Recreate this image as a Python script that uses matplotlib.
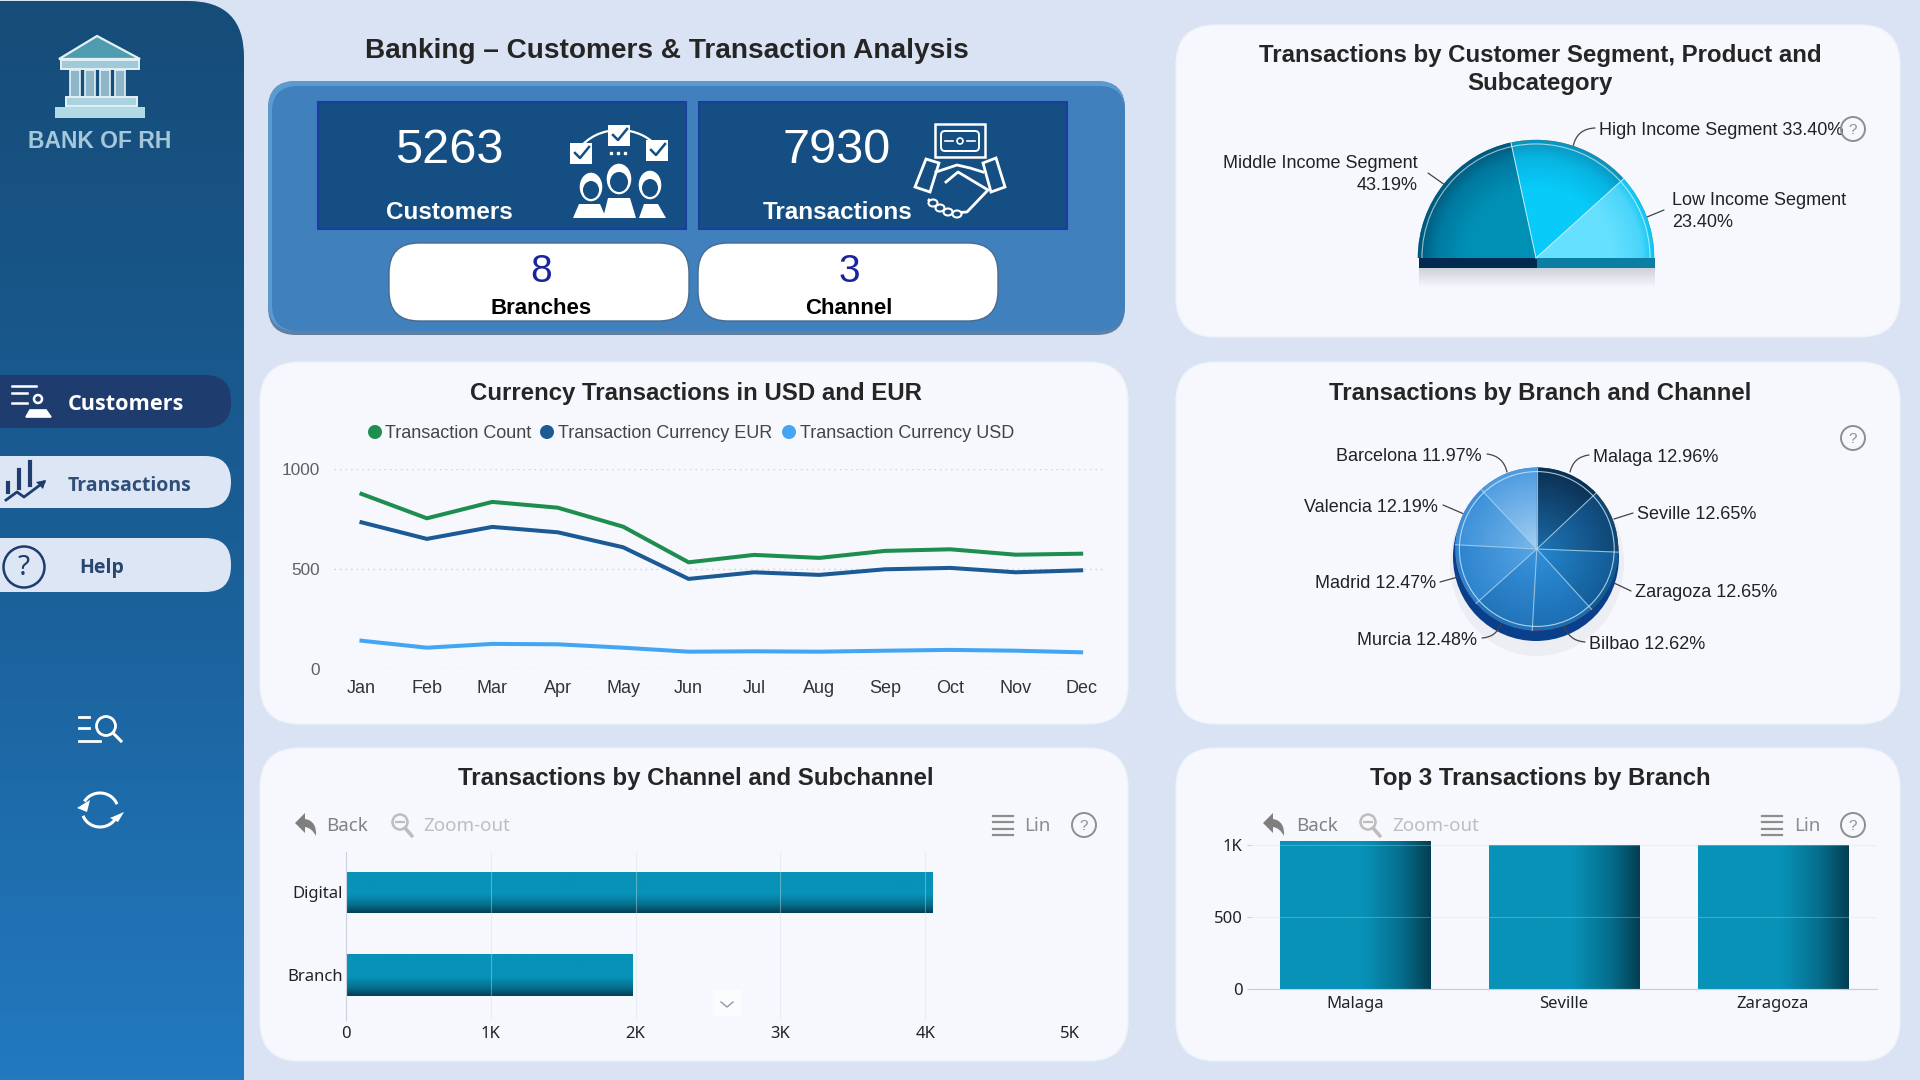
import numpy as np
import matplotlib
matplotlib.use("Agg")
import matplotlib.pyplot as plt
from matplotlib.colors import LinearSegmentedColormap
from matplotlib.patches import Arc, Circle, Ellipse, FancyBboxPatch, PathPatch, Polygon, Rectangle
from matplotlib.path import Path

plt.rcParams["font.family"] = ["Liberation Sans", "DejaVu Sans"]

# === data ===
KPI_CUSTOMERS = 5263
KPI_TRANSACTIONS = 7930
KPI_BRANCHES = 8
KPI_CHANNELS = 3

months = ["Jan", "Feb", "Mar", "Apr", "May", "Jun", "Jul", "Aug", "Sep", "Oct", "Nov", "Dec"]
transaction_count = [877, 755, 837, 808, 713, 535, 572, 557, 592, 600, 573, 578]
currency_eur = [735, 652, 712, 685, 610, 452, 485, 472, 500, 507, 485, 495]
currency_usd = [143, 108, 127, 125, 108, 88, 90, 88, 93, 97, 93, 85]
line_names = ["Transaction Count", "Transaction Currency EUR", "Transaction Currency USD"]
line_yticks = [0, 500, 1000]

segment_names = ["Middle Income Segment", "High Income Segment", "Low Income Segment"]
segment_pct = [43.19, 33.40, 23.40]

branch_names = ["Malaga", "Seville", "Zaragoza", "Bilbao", "Murcia", "Madrid", "Valencia", "Barcelona"]
branch_pct = [12.96, 12.65, 12.65, 12.62, 12.48, 12.47, 12.19, 11.97]

channel_names = ["Branch", "Digital"]
channel_values = [1980, 4050]
channel_ticks = [0, 1000, 2000, 3000, 4000, 5000]
channel_tick_labels = ["0", "1K", "2K", "3K", "4K", "5K"]

top_branches = ["Malaga", "Seville", "Zaragoza"]
top_values = [1028, 1003, 1003]
top_ticks = [0, 500, 1000]
top_tick_labels = ["0", "500", "1K"]

# === colours ===
PAGE = "#D9E3F3"
CARD = "#F6F8FD"
TITLE = "#252525"
GREEN = "#1E8E50"
NAVY = "#1B5A94"
SKY = "#45A5F5"
KPI_BOX = "#154E82"
NAV_DARK = "#1F3C6E"
NAV_LIGHT = "#DCE6F5"
TICK_FONT = ["Noto Sans", "DejaVu Sans"]

W, H = 1920, 1080
fig = plt.figure(figsize=(W / 100, H / 100), dpi=100, facecolor=PAGE)

# page axes in pixels, y going down, everything that is not a chart sits here
bg = fig.add_axes([0, 0, 1, 1], zorder=0)
bg.set_xlim(0, W)
bg.set_ylim(H, 0)
bg.axis("off")


def px_axes(x0, y0, x1, y1, zorder=2):
    ax = fig.add_axes([x0 / W, 1 - y1 / H, (x1 - x0) / W, (y1 - y0) / H], zorder=zorder)
    ax.patch.set_alpha(0)
    return ax


def round_box(x0, y0, x1, y1, radius, color, edge="none", lw=0, zorder=1, ax=bg):
    patch = FancyBboxPatch((x0, y0), x1 - x0, y1 - y0, boxstyle=f"round,pad=0,rounding_size={radius}",
                           facecolor=color, edgecolor=edge, linewidth=lw, zorder=zorder)
    ax.add_patch(patch)
    return patch


def gradient_fill(ax, extent, stops, vertical=True, clip=None, zorder=2):
    """linear gradient, stops run top to bottom (or left to right)"""
    cmap = LinearSegmentedColormap.from_list("g", stops)
    ramp = np.linspace(0, 1, 256)
    grad = ramp[:, None] if vertical else ramp[None, :]
    xlim, ylim = ax.get_xlim(), ax.get_ylim()
    im = ax.imshow(grad, extent=extent, cmap=cmap, aspect="auto", origin="upper", zorder=zorder, vmin=0, vmax=1)
    if clip is not None:
        im.set_clip_path(clip)
    ax.set_xlim(xlim)
    ax.set_ylim(ylim)
    return im


def radial_fill(ax, wedge, stops, zorder=2):
    """radial shading of one pie wedge, stops run centre to rim"""
    cmap = LinearSegmentedColormap.from_list("r", stops)
    xx, yy = np.meshgrid(np.linspace(-1.1, 1.1, 400), np.linspace(-1.1, 1.1, 400))
    im = ax.imshow(np.hypot(xx, yy), extent=[-1.1, 1.1, -1.1, 1.1], cmap=cmap, vmin=0, vmax=1,
                   origin="lower", zorder=zorder, aspect="equal", interpolation="bilinear")
    im.set_clip_path(wedge)


def leader(x0, y0, x1, y1, rad=0.0):
    bg.annotate("", xy=(x1, y1), xytext=(x0, y0), zorder=6,
                arrowprops=dict(arrowstyle="-", color="#444444", lw=0.9, shrinkA=0, shrinkB=0,
                                connectionstyle=f"arc3,rad={rad}"))


def question(x, y, r=12, color="#8E8E8E", lw=1.4, size=11):
    bg.add_patch(Circle((x, y), r, facecolor="none", edgecolor=color, lw=lw, zorder=6))
    bg.text(x, y + 1, "?", ha="center", va="center", fontsize=size, color=color, zorder=6)


def draw_back(x, y, color="#7F7F7F"):
    verts = [(x - 11, y - 2), (x - 1, y - 12), (x - 1, y - 6), (x + 11, y - 4), (x + 10, y + 11),
             (x + 6, y + 3), (x - 1, y + 2), (x - 1, y + 8), (x - 11, y - 2)]
    codes = [Path.MOVETO, Path.LINETO, Path.LINETO, Path.CURVE3, Path.CURVE3, Path.CURVE3, Path.CURVE3,
             Path.LINETO, Path.CLOSEPOLY]
    bg.add_patch(PathPatch(Path(verts, codes), facecolor=color, edgecolor="none", zorder=6))


def draw_zoom(x, y, color="#BDBDBD"):
    bg.add_patch(Circle((x - 2, y - 3), 7.5, facecolor="none", edgecolor=color, lw=1.8, zorder=6))
    bg.plot([x + 3, x + 10], [y + 3, y + 11], color=color, lw=2.6, zorder=6, solid_capstyle="round")
    bg.plot([x - 6, x + 2], [y - 3, y - 3], color=color, lw=1.6, zorder=6)


def draw_list(x, y, color="#8E8E8E"):
    for dy in (-9.5, -3, 3.5, 10):
        bg.plot([x - 10, x - 7.5], [y + dy, y + dy], color=color, lw=1.6, zorder=6)
        bg.plot([x - 5, x + 10], [y + dy, y + dy], color=color, lw=1.6, zorder=6)


def toolbar(arrow_x, back_x, zoom_x, zoomtxt_x, list_x, lin_x, help_x, y=825):
    draw_back(arrow_x, y)
    bg.text(back_x, y + 1, "Back", ha="left", va="center", fontsize=13.5, color="#808080", zorder=6, family=TICK_FONT)
    draw_zoom(zoom_x, y)
    bg.text(zoomtxt_x, y + 1, "Zoom-out", ha="left", va="center", fontsize=13.5, color="#BEBEBE", zorder=6, family=TICK_FONT)
    draw_list(list_x, y)
    bg.text(lin_x, y + 1, "Lin", ha="left", va="center", fontsize=13.5, color="#8C8C8C", zorder=6, family=TICK_FONT)
    question(help_x, y)


def arc_pts(cx, cy, rx, ry, a0, a1):
    t = np.radians(np.linspace(a0, a1, 40))
    return cx + rx * np.cos(t), cy - ry * np.sin(t)


# --- sidebar ---
side = round_box(-100, 1, 244, 1400, 56, "none")
gradient_fill(bg, [0, 244, 1080, 0], ["#164C78", "#1A5E96", "#2279BF"], clip=side)

# bank logo
bg.add_patch(Polygon([(97, 36), (140, 59), (59, 59)], facecolor="#4F9BB0", edgecolor="#E4F0F4", lw=1.6, zorder=3))
bg.add_patch(Rectangle((61, 60), 78, 9, facecolor="#9FCBD8", edgecolor="#E4F0F4", lw=1.4, zorder=3))
for cx in (75, 90, 105, 120):
    bg.add_patch(Rectangle((cx - 5, 70), 10, 27, facecolor="#8FB6C8", edgecolor="#E4F0F4", lw=1.2, zorder=3))
bg.add_patch(Rectangle((66, 97), 71, 9, facecolor="#A9D3DE", edgecolor="#E4F0F4", lw=1.4, zorder=3))
bg.add_patch(Rectangle((55, 107), 90, 11, facecolor="#B2DAE5", edgecolor="none", zorder=3))
bg.text(100, 142, "BANK OF RH", ha="center", va="center", fontsize=16.5, weight="bold", color="#A4C8DA", zorder=3)

# nav buttons
round_box(-60, 375, 231, 428, 26, NAV_DARK, zorder=3)
round_box(-60, 456, 231, 508, 26, NAV_LIGHT, zorder=3)
round_box(-60, 538, 231, 592, 26, NAV_LIGHT, zorder=3)
nav_font = ["Open Sans", "DejaVu Sans"]
bg.text(68, 405, "Customers", ha="left", va="center", fontsize=15.6, weight="bold", color="white", zorder=4, family=nav_font)
bg.text(68, 486, "Transactions", ha="left", va="center", fontsize=14, weight="bold", color="#2F4E78", zorder=4, family=nav_font)
bg.text(79, 568, "Help", ha="left", va="center", fontsize=14, weight="bold", color="#2A4570", zorder=4, family=nav_font)

# customers icon
for yy, x1 in ((386, 36), (393, 27), (403, 27)):
    bg.plot([12, x1], [yy, yy], color="white", lw=1.8, zorder=4)
bg.add_patch(Circle((38, 399), 4, facecolor="none", edgecolor="white", lw=1.8, zorder=4))
bg.add_patch(Polygon([(26, 417), (30, 410), (46, 410), (51, 417)], facecolor="white", edgecolor="white", lw=1.2, zorder=4))
# transactions icon
for xx, y0, y1 in ((8, 483, 492), (19, 470, 488), (30, 462, 485)):
    bg.plot([xx, xx], [y0, y1], color=NAV_DARK, lw=3, zorder=4)
bg.plot([6, 17, 24, 44], [500, 492, 497, 482], color=NAV_DARK, lw=2, zorder=4)
bg.add_patch(Polygon([(46, 480), (36, 482), (43, 489)], facecolor=NAV_DARK, zorder=4))
# help icon
bg.add_patch(Circle((24, 567), 20.5, facecolor="none", edgecolor=NAV_DARK, lw=1.8, zorder=4))
bg.text(24, 568, "?", ha="center", va="center", fontsize=20, color=NAV_DARK, zorder=4, family=TICK_FONT)
# search and refresh icons
for yy, x1 in ((717, 89), (728, 89), (741, 100)):
    bg.plot([79, x1], [yy, yy], color="white", lw=2, zorder=3)
bg.add_patch(Circle((106, 726), 9.5, facecolor="none", edgecolor="white", lw=2, zorder=3))
bg.plot([113, 121], [733, 741], color="white", lw=2.2, zorder=3)
for a0, a1 in ((25, 145), (205, 325)):
    ax_, ay_ = arc_pts(100, 810, 18, 17, a0, a1)
    bg.plot(ax_, ay_, color="white", lw=2.2, zorder=3)
bg.add_patch(Polygon([(110, 818), (124, 812), (118, 822)], facecolor="white", zorder=3))
bg.add_patch(Polygon([(77, 808), (90, 800), (87, 812)], facecolor="white", zorder=3))

# --- title and KPI block ---
bg.text(667, 50.5, "Banking – Customers & Transaction Analysis", ha="center", va="center",
        fontsize=20.2, weight="bold", color=TITLE, zorder=3)

round_box(268, 81, 1125, 335, 28, "#5F7FA3")
round_box(268, 81, 1125, 331, 28, "#5C9BD0", zorder=1)
round_box(272, 86, 1125, 331, 26, "#3F80BD", zorder=1)

bg.add_patch(Rectangle((318, 102), 368, 127, facecolor=KPI_BOX, edgecolor="#1A3D9E", lw=1.5, zorder=2))
bg.add_patch(Rectangle((699, 102), 368, 127, facecolor=KPI_BOX, edgecolor="#1A3D9E", lw=1.5, zorder=2))
round_box(389, 243, 689, 321, 30, "white", edge="#4A6A8E", lw=1, zorder=2)
round_box(698, 243, 998, 321, 30, "white", edge="#4A6A8E", lw=1, zorder=2)

bg.text(449, 150.5, str(KPI_CUSTOMERS), ha="center", va="center", fontsize=35, color="white", zorder=3)
bg.text(449, 212.5, "Customers", ha="center", va="center", fontsize=17.5, weight="bold", color="white", zorder=3)
bg.text(837, 150.5, str(KPI_TRANSACTIONS), ha="center", va="center", fontsize=35, color="white", zorder=3)
bg.text(838, 212.5, "Transactions", ha="center", va="center", fontsize=17.5, weight="bold", color="white", zorder=3)
bg.text(541, 271.5, str(KPI_BRANCHES), ha="center", va="center", fontsize=28, color="#1B249B", zorder=3)
bg.text(541, 308.5, "Branches", ha="center", va="center", fontsize=16, weight="bold", color="black", zorder=3)
bg.text(849, 271.5, str(KPI_CHANNELS), ha="center", va="center", fontsize=28, color="#1B249B", zorder=3)
bg.text(849, 308.5, "Channel", ha="center", va="center", fontsize=16, weight="bold", color="black", zorder=3)

# customers KPI icon
for x0, y0, size in ((570, 143, 22), (608, 125, 22), (646, 140, 22)):
    bg.add_patch(Rectangle((x0, y0), size, size - 1, facecolor="white", zorder=3))
    bg.plot([x0 + 5, x0 + 10, x0 + 19], [y0 + 10, y0 + 15, y0 + 4], color=KPI_BOX, lw=1.8, zorder=4)
bg.add_patch(Arc((619, 168), 92, 76, theta1=205, theta2=335, color="white", lw=1.6, zorder=3))
bg.plot([611, 618, 625], [153, 153, 153], ls="none", marker="s", ms=2, color="white", zorder=3)
bg.add_patch(Polygon([(573, 218), (579, 204), (600, 204), (606, 218)], facecolor="white", zorder=3))
bg.add_patch(Polygon([(603, 218), (608, 198), (630, 198), (636, 218)], facecolor="white", zorder=3))
bg.add_patch(Polygon([(639, 218), (644, 204), (658, 204), (666, 218)], facecolor="white", zorder=3))
for cx, cy, rx, ry in ((591, 187, 12, 15), (619, 179, 13, 16), (650, 185, 12, 15)):
    bg.add_patch(Ellipse((cx, cy), 2 * rx, 2 * ry, facecolor="white", edgecolor=KPI_BOX, lw=1, zorder=4))
    bg.add_patch(Ellipse((cx, cy + 3), 2 * rx - 8, 2 * ry - 12, facecolor=KPI_BOX, zorder=4))

# transactions KPI icon
bg.add_patch(Rectangle((935, 124), 50, 33, facecolor="none", edgecolor="white", lw=1.8, zorder=3))
round_box(941, 131, 979, 151, 4, "none", edge="white", lw=1.4, zorder=3)
bg.add_patch(Circle((960, 141), 3, facecolor="none", edgecolor="white", lw=1.2, zorder=3))
bg.plot([945, 953], [141, 141], color="white", lw=1.2, zorder=3)
bg.plot([967, 975], [141, 141], color="white", lw=1.2, zorder=3)
bg.add_patch(Polygon([(915, 187), (926, 159), (939, 163), (930, 192)], facecolor=KPI_BOX, edgecolor="white", lw=2, zorder=3))
bg.add_patch(Polygon([(983, 163), (996, 158), (1005, 187), (991, 192)], facecolor=KPI_BOX, edgecolor="white", lw=2, zorder=3))
bg.plot([936, 957, 970, 983], [172, 165, 168, 172], color="white", lw=2, zorder=3)
bg.plot([946, 958, 988, 967, 950, 929], [182, 172, 190, 212, 213, 200], color="white", lw=2, zorder=3)
for cx, cy in ((933, 203), (940, 208), (948, 212), (957, 214)):
    bg.add_patch(Ellipse((cx, cy), 9, 7, facecolor=KPI_BOX, edgecolor="white", lw=1.5, zorder=4))

# --- cards ---
round_box(1176, 25, 1900, 337, 40, CARD, edge="#EEF2FA", lw=1)
round_box(1176, 362, 1900, 724, 40, CARD, edge="#EEF2FA", lw=1)
round_box(1176, 748, 1900, 1061, 40, CARD, edge="#EEF2FA", lw=1)
round_box(260, 362, 1128, 724, 40, CARD, edge="#EEF2FA", lw=1)
round_box(260, 748, 1128, 1061, 40, CARD, edge="#EEF2FA", lw=1)

title_kw = dict(ha="center", va="center", fontsize=17.3, weight="bold", color=TITLE, zorder=5)
bg.text(1540, 55.5, "Transactions by Customer Segment, Product and", **title_kw)
bg.text(1540, 83.5, "Subcategory", **title_kw)
bg.text(696, 393.5, "Currency Transactions in USD and EUR", **title_kw)
bg.text(1540, 393.5, "Transactions by Branch and Channel", **title_kw)
bg.text(696, 778, "Transactions by Channel and Subchannel", **title_kw)
bg.text(1540, 778, "Top 3 Transactions by Branch", **title_kw)

# --- line chart ---
ax = px_axes(334, 469.3, 1106, 669.3)
x_pos = np.arange(len(months))
for values, color in ((currency_usd, SKY), (currency_eur, NAVY), (transaction_count, GREEN)):
    ax.plot(x_pos, values, color=color, lw=2.9, solid_joinstyle="round", zorder=3)
ax.set_xlim(-0.42, 11.38)
ax.set_ylim(0, 1000)
ax.set_xticks(x_pos, months)
ax.set_yticks(line_yticks, [str(v) for v in line_yticks])
ax.grid(axis="y", color="#CFCFCF", lw=1, ls=(0, (1, 3)), zorder=1)
ax.tick_params(length=0, labelfontfamily="Liberation Sans")
ax.tick_params(axis="x", pad=8, labelsize=13, labelcolor="#333333")
ax.tick_params(axis="y", pad=10, labelsize=12.4, labelcolor="#606060")
for s in ax.spines.values():
    s.set_visible(False)
for name, color, dot_x, text_x in zip(line_names, (GREEN, NAVY, SKY), (375, 547, 789), (385, 558, 800)):
    bg.add_patch(Circle((dot_x, 432), 7, facecolor=color, zorder=5))
    bg.text(text_x, 434, name, ha="left", va="center", fontsize=13, color="#444444", zorder=5)

# --- half pie ---
bg.add_patch(Rectangle((1419, 258), 118, 10, facecolor="#02294F", zorder=3))
bg.add_patch(Rectangle((1537, 258), 118, 10, facecolor="#0B7FA3", zorder=3))
gradient_fill(bg, [1419, 1655, 287, 268], [(0.80, 0.82, 0.85, 1), (0.965, 0.97, 0.99, 1)], zorder=2)

ax = px_axes(1536 - 130, 258 - 130, 1536 + 130, 258 + 130)
half_stops = [
    [(0, "#0090B5"), (0.6, "#0090B5"), (0.85, "#0079A0"), (1, "#00587A")],
    [(0, "#08CBFA"), (0.6, "#08CBFA"), (0.85, "#07B5E2"), (1, "#0A93BC")],
    [(0, "#66E0FF"), (0.65, "#66E0FF"), (0.9, "#4AD5FA"), (1, "#0FC4F4")],
]
wedges, _ = ax.pie(segment_pct + [sum(segment_pct)], startangle=180, counterclock=False, radius=1)
wedges[-1].set_visible(False)
for wedge, stops in zip(wedges, half_stops):
    radial_fill(ax, wedge, stops)
for wedge in wedges[1:3]:
    t = np.radians(wedge.theta2 if wedge.theta2 < 180 else wedge.theta1)
    ax.plot([0, np.cos(t)], [0, np.sin(t)], color="#C8EEF8", lw=0.7, zorder=4)
ax.add_patch(Arc((0, 0), 1.93, 1.93, theta1=0, theta2=180, color="white", lw=0.8, alpha=0.6, zorder=4))
ax.set_xlim(-1.1, 1.1)
ax.set_ylim(-1.1, 1.1)

label_kw = dict(fontsize=13, color="#222222", va="center", zorder=6)
bg.text(1418, 174.5, f"{segment_names[0]}\n{segment_pct[0]:.2f}%", ha="right", linespacing=1.32, **label_kw)
bg.text(1599, 130.5, f"{segment_names[1]} {segment_pct[1]:.2f}%", ha="left", **label_kw)
bg.text(1672, 211.5, f"{segment_names[2]}\n{segment_pct[2]:.2f}%", ha="left", linespacing=1.32, **label_kw)
leader(1428, 173, 1445, 185)
leader(1595, 128, 1573, 147, rad=0.4)
leader(1664, 210, 1647, 217)
question(1853, 129)

# --- 3D looking branch pie ---
shadow = Ellipse((1537, 563), 174, 186, facecolor="#E8EAEF", alpha=0.7, zorder=2)
bg.add_patch(shadow)
bg.add_patch(Ellipse((1536, 557), 166, 168, facecolor="#0A3F8C", zorder=3))

ax = px_axes(1536.8 - 90, 549 - 90, 1536.8 + 90, 549 + 90)
branch_stops = [
    ("#1B6AA5", "#0B2F52"), ("#1F76B8", "#0E4573"), ("#2688CF", "#125A94"), ("#3090DC", "#1B6DB0"),
    ("#3A94DE", "#2173B8"), ("#58A5E6", "#2C83CC"), ("#7AB8EC", "#3A8FD8"), ("#A5CFF3", "#4B9BE0"),
]
wedges, _ = ax.pie(branch_pct, startangle=90, counterclock=False, radius=1)
for wedge, (inner, outer) in zip(wedges, branch_stops):
    radial_fill(ax, wedge, [inner, outer])
    t = np.radians(wedge.theta1)
    ax.plot([0, np.cos(t)], [0, np.sin(t)], color="#A8D8F0", lw=0.8, alpha=0.8, zorder=4)
ax.add_patch(Circle((0, 0), 0.95, facecolor="none", edgecolor="#CFE8F6", lw=0.8, alpha=0.8, zorder=4))
ax.set_xlim(-90 / 81.5, 90 / 81.5)
ax.set_ylim(-90 / 81.5, 90 / 81.5)

# label anchor and leader per branch, same order as branch_names
branch_layout = [
    (1593, 457.5, "left", 1589, 455, 1570, 472, 0.35),
    (1637, 514.5, "left", 1633, 513, 1614, 519, 0.0),
    (1635, 592.5, "left", 1631, 591, 1614, 583, 0.0),
    (1589, 644.5, "left", 1585, 642, 1564, 625, -0.35),
    (1477, 640.5, "right", 1482, 638, 1501, 623, 0.35),
    (1436, 583.5, "right", 1440, 582, 1458, 577, 0.0),
    (1438, 507.5, "right", 1443, 505, 1464, 514, 0.0),
    (1482, 456.5, "right", 1487, 454, 1507, 472, -0.35),
]
for name, pct, (tx, ty, ha, x0, y0, x1, y1, rad) in zip(branch_names, branch_pct, branch_layout):
    bg.text(tx, ty, f"{name} {pct:.2f}%", ha=ha, **label_kw)
    leader(x0, y0, x1, y1, rad=rad)
question(1853, 438)

# --- channel bars ---
toolbar(306, 326, 402, 423, 1003, 1024, 1084)
ax = px_axes(346, 852, 1070, 1020)
y_pos = np.arange(len(channel_names))
bars = ax.barh(y_pos, channel_values, height=0.5, color="#0892B8", zorder=1)
ax.set_xlim(0, 5000)
ax.set_ylim(-0.545, 1.49)
for bar in bars:
    x0, y0, w_, h_ = bar.get_bbox().bounds
    gradient_fill(ax, [x0, x0 + w_, y0, y0 + h_],
                  [(0, "#0892B8"), (0.55, "#0892B8"), (0.8, "#056F8E"), (1, "#033F52")], clip=bar)
ax.set_xticks(channel_ticks, channel_tick_labels)
ax.set_yticks(y_pos, channel_names)
ax.grid(axis="x", color="#D5DCE5", lw=0.8, alpha=0.4, zorder=3)
ax.set_axisbelow(False)
ax.tick_params(length=0, labelfontfamily=TICK_FONT[0], labelsize=12, labelcolor="#222222")
ax.tick_params(axis="x", pad=4)
ax.tick_params(axis="y", pad=2.5)
for s in ax.spines.values():
    s.set_visible(False)
ax.spines["left"].set_visible(True)
ax.spines["left"].set_color("#C9CED8")

# little chevron over the chart
chev = px_axes(713, 990, 741, 1016, zorder=3)
chev.set_xlim(713, 741)
chev.set_ylim(1016, 990)
chev.axis("off")
chev.add_patch(Rectangle((713, 990), 28, 26, facecolor="#FBFCFE", edgecolor="none"))
chev.plot([721, 727, 733], [1002, 1007, 1002], color="#8E9AA8", lw=1)

# --- top 3 branches ---
toolbar(1274, 1296, 1370, 1392, 1772, 1794, 1853)
ax = px_axes(1251, 840, 1877, 989.3)
x_pos = np.arange(len(top_branches))
bars = ax.bar(x_pos, top_values, width=0.72, color="#0892B8", zorder=1)
ax.set_xlim(-0.5, 2.5)
ax.set_ylim(0, 1037)
for bar in bars:
    x0, y0, w_, h_ = bar.get_bbox().bounds
    gradient_fill(ax, [x0, x0 + w_, y0, y0 + h_],
                  [(0, "#0892B8"), (0.55, "#0892B8"), (0.8, "#056F8E"), (1, "#033F52")],
                  vertical=False, clip=bar)
ax.set_xticks(x_pos, top_branches)
ax.set_yticks(top_ticks, top_tick_labels)
ax.grid(axis="y", color="#D5DCE5", lw=0.8, alpha=0.3, zorder=3)
ax.set_axisbelow(False)
ax.tick_params(axis="x", length=0, pad=5)
ax.tick_params(axis="y", length=3, pad=3, color="#C9CED8")
ax.tick_params(labelfontfamily=TICK_FONT[0], labelsize=12, labelcolor="#222222")
for s in ax.spines.values():
    s.set_visible(False)
ax.spines["bottom"].set_visible(True)
ax.spines["bottom"].set_color("#C5CAD5")

fig.savefig("out.png", dpi=100)
